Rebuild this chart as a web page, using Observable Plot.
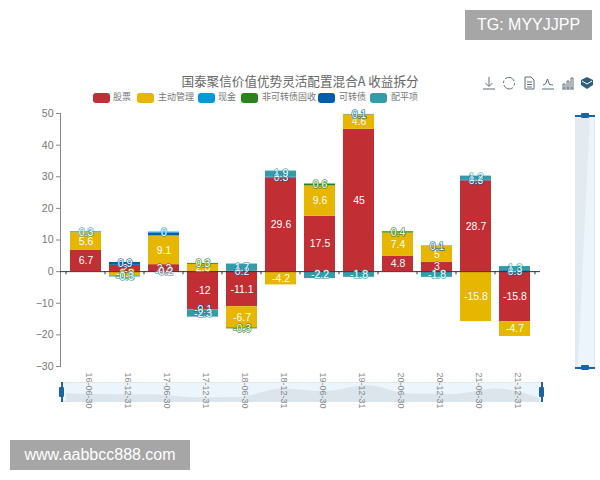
<!DOCTYPE html>
<html lang="zh">
<head>
<meta charset="utf-8">
<script src="https://cdn.jsdelivr.net/npm/d3@7"></script>
<script src="https://cdn.jsdelivr.net/npm/@observablehq/plot@0.6"></script>
<style>
  html, body { margin: 0; padding: 0; background: #fff; }
  #stage { position: relative; width: 600px; height: 480px; overflow: hidden; font-family: "Liberation Sans", Arial, sans-serif; }
  #stage > * { position: absolute; }
  #title { left: 0; width: 600px; top: 72px; text-align: center; font: 12.6px "Noto Sans CJK SC", sans-serif; color: #666; line-height: 18px; }
  .sw { top: 93px; width: 17px; height: 10px; border-radius: 3px; }
  .lg { top: 90px; font: 9px "Noto Sans CJK SC", sans-serif; color: #777; line-height: 14px; white-space: nowrap; }
  .wm { background: #a6a6a6; color: #fff; display: flex; align-items: center; justify-content: center; font-size: 16px; }
  .hbar { background: #ebf5fb; border: 1px solid #e2e8ec; box-sizing: border-box; }
  .handle-line { background: #1a65a5; }
  .handle-box { background: #1a65a5; border-radius: 1px; }
</style>
</head>
<body>
<div id="stage"></div>
<script>
const dates = ["16-06-30","16-12-31","17-06-30","17-12-31","18-06-30","18-12-31","19-06-30","19-12-31","20-06-30","20-12-31","21-06-30","21-12-31"];
const seriesNames = ["股票","主动管理","现金","非可转债固收","可转债","配平项"];
const seriesColors = ["#c12e34","#e6b600","#0098d9","#2b821d","#005eaa","#339ca8"];

const stock    = [6.7, 2.0, 2.2, -12, -11.1, 29.6, 17.5, 45, 4.8, 3, 28.7, -15.8];
const active   = [5.6, -1.3, 9.1, 2.3, -6.7, -4.2, 9.6, 4.6, 7.4, 5, -15.8, -4.7];
const cash     = [null, null, 0.3, null, null, null, null, null, null, null, null, null];
const nonConv  = [null, -0.1, null, 0.3, -0.3, null, 0.6, null, 0.4, null, null, null];
const convert  = [null, 0.9, 0.9, -0.1, 0.2, 0.3, null, 0.1, null, 0.1, 0.3, 0.3];
const balance  = [0.3, -0.3, -0.2, -2.3, 2.2, 1.9, -2.2, -1.8, null, -1.8, 1.2, 1.3];

// Labels as printed on the chart where they differ from the drawn value
const labelOverrides = {
  "现金|17-06-30": "0",
  "可转债|17-06-30": "",
  "配平项|18-06-30": "1.7"
};

// Stacking order of the bars (bottom to top)
const stackOrder = [["股票", stock], ["主动管理", active], ["非可转债固收", nonConv], ["可转债", convert], ["现金", cash], ["配平项", balance]];
const rows = stackOrder.flatMap(([series, values]) =>
  values.map((value, i) => ({
    date: dates[i], series, value,
    label: labelOverrides[series + "|" + dates[i]] ?? String(value)
  })).filter(d => d.value != null));

const axisColor = "#888";
const textColor = "#777";

const chart = Plot.plot({
  width: 600, height: 480,
  marginLeft: 60, marginRight: 60, marginTop: 113, marginBottom: 114,
  style: { background: "transparent", fontFamily: '"Liberation Sans", Arial, sans-serif' },
  x: { type: "band", domain: dates, padding: 0.2, align: 0.5, axis: null },
  y: { domain: [-30, 50], axis: null },
  color: { domain: seriesNames, range: seriesColors },
  marks: [
    Plot.frame({ anchor: "left", stroke: axisColor }),
    Plot.axisY({ ticks: d3.range(-30, 51, 10), tickSize: 4, tickPadding: 3, fontSize: 10.5, color: textColor, stroke: axisColor, label: null, anchor: "left" }),
    Plot.ruleX(dates, { x: d => d, y1: 0, y2: -1, dx: -20, stroke: "#333" }),
    Plot.ruleX(dates.slice(-1), { x: d => d, y1: 0, y2: -1, dx: 20, stroke: "#333" }),
    Plot.barY(rows, { x: "date", y: "value", fill: "series" }),
    Plot.ruleY([0], { stroke: "#333" }),
    Plot.text(rows, Plot.stackY({ x: "date", y: "value", z: "series", text: "label", stroke: "series", strokeWidth: 1.6, strokeOpacity: 0.75, fill: "#fff", fontSize: 10.5 })),
    Plot.text(dates, { x: d => d, text: d => d, frameAnchor: "bottom", rotate: 90, textAnchor: "start", dy: 6, fontSize: 9, fill: "#888", letterSpacing: "0.1px" })
  ]
});

const stage = document.getElementById("stage");
function box(cls, css, text) {
  const el = document.createElement("div");
  el.className = cls;
  el.style.cssText = css;
  if (text != null) el.textContent = text;
  stage.appendChild(el);
  return el;
}

// Horizontal data-zoom slider
box("hbar", "left:61px;top:382px;width:481px;height:20px;");
const miniH = Plot.plot({
  width: 480, height: 20, margin: 0,
  style: { background: "transparent" },
  x: { type: "point", domain: dates, padding: 0, axis: null },
  y: { domain: [-35, 60], axis: null },
  marks: [Plot.areaY(rows.filter(d => d.series === "股票"), { x: "date", y1: -35, y2: "value", fill: "#dbe5eb", curve: "monotone-x" })]
});
miniH.style.cssText += ";position:absolute;left:62px;top:382px;";
stage.appendChild(miniH);

// Vertical data-zoom slider
box("hbar", "left:575px;top:115px;width:20px;height:252px;");
box("", "left:576px;top:116px;width:18px;height:250px;background:#e3ebf0;clip-path:polygon(0 0,78% 0,10% 100%,0 100%);");

stage.appendChild(chart);

// Slider handles
for (const x of [61, 541]) {
  box("handle-line", `left:${x}px;top:382px;width:1.5px;height:20px;`);
  box("handle-box", `left:${x - 2}px;top:387px;width:5px;height:10px;`);
}
for (const y of [115, 367]) {
  box("handle-line", `left:575px;top:${y}px;width:20px;height:1.5px;`);
  box("handle-box", `left:581px;top:${y - 2}px;width:8px;height:5px;`);
}

// Title
box("", "", "").id = "title";
document.getElementById("title").textContent = "国泰聚信价值优势灵活配置混合A 收益拆分";

// Legend
const legendSwatchX = [93, 137, 198, 241, 318, 370];
const legendTextX = [113, 158, 218, 262, 339, 391];
seriesNames.forEach((name, i) => {
  box("sw", `left:${legendSwatchX[i]}px;background:${seriesColors[i]};`);
  box("lg", `left:${legendTextX[i]}px;`, name);
});

// Toolbox icons
const iconStroke = "#5f6f7a";
const icons = [
  [489, `<path d="M7 1v9M3.5 7L7 10.5 10.5 7M1 13h12"/>`],
  [509, `<path d="M12 5A5.5 5.5 0 0 0 3 3M2 9a5.5 5.5 0 0 0 9 2.5M1.5 7a5.5 5.5 0 0 1 .5-2.5M12.5 7a5.5 5.5 0 0 1-.5 2.5"/>`],
  [529, `<path d="M3 1h6l3 3v9H3zM5 6h5M5 8.5h5M5 11h5"/>`],
  [548, `<path d="M2 9l2.5-1L6.5 3 8.5 8.5l3.5.5M1 13h12"/>`],
  [568, `<path d="M2 8h2v4H2zM6 5h2v7H6zM10 2h2v10h-2zM1 13h12"/>`]
];
for (const [x, d] of icons) {
  const wrap = box("", `left:${x - 7}px;top:76px;width:14px;height:14px;`);
  wrap.innerHTML = `<svg width="14" height="14" viewBox="0 0 14 14" fill="none" stroke="${iconStroke}" stroke-width="1">${d}</svg>`;
}
const stackIcon = box("", "left:580px;top:76px;width:14px;height:14px;");
stackIcon.innerHTML = `<svg width="14" height="14" viewBox="0 0 14 14"><path d="M7 1l6 3v5l-6 4-6-4V4z" fill="#2f5f7f"/><path d="M2 5l5 3 5-3" fill="none" stroke="#fff" stroke-width="1"/></svg>`;

// Watermarks
box("wm", "left:465px;top:10px;width:127px;height:30px;", "TG: MYYJJPP");
box("wm", "left:10px;top:440px;width:180px;height:30px;", "www.aabbcc888.com");
</script>
</body>
</html>
